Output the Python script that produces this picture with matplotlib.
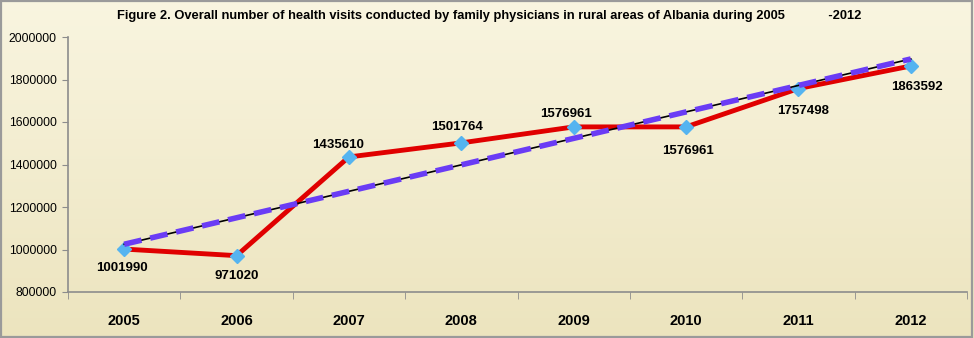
import numpy as np
import matplotlib
matplotlib.use("Agg")
import matplotlib.pyplot as plt
from matplotlib.patches import Rectangle

# Data
years = ["2005", "2006", "2007", "2008", "2009", "2010", "2011", "2012"]
visits = [1001990, 971020, 1435610, 1501764, 1576961, 1576961, 1757498, 1863592]
y_ticks = [800000, 1000000, 1200000, 1400000, 1600000, 1800000, 2000000]
title = ("Figure 2. Overall number of health visits conducted by family physicians "
         "in rural areas of Albania during 2005            -2012")

# Label placement per point, in pixels relative to the marker (label centred)
label_offsets = [(-2, -19), (0, -20), (-11, 12), (-4, 16),
                 (-8, 13), (2, -24), (5, -22), (6, -21)]

W, H, DPI = 974, 338, 100
fig = plt.figure(figsize=(W / DPI, H / DPI), dpi=DPI)

# Cream gradient background
bg = fig.add_axes([0, 0, 1, 1], zorder=-10)
grad = np.linspace(0, 1, 256)[:, None]
top_c = np.array([249, 245, 224]) / 255
bot_c = np.array([236, 228, 190]) / 255
img = top_c[None, None, :] * (1 - grad[..., None]) + bot_c[None, None, :] * grad[..., None]
img = np.repeat(img, 2, axis=1)
bg.imshow(img, aspect="auto", extent=[0, 1, 0, 1], origin="upper")
bg.add_patch(Rectangle((0.001, 0.002), 0.997, 0.995, transform=bg.transAxes,
                       fill=False, edgecolor="#9a9a9a", linewidth=1.6))
bg.set_axis_off()

narrow = ["Liberation Sans Narrow", "Liberation Sans", "DejaVu Sans"]

left, right = 68 / W, 967 / W
bottom, top = (H - 292) / H, (H - 37) / H
ax = fig.add_axes([left, bottom, right - left, top - bottom])
ax.patch.set_alpha(0)

x = np.arange(len(years))

# Linear trend of the series
coef = np.polyfit(x, visits, 1)
trend = np.polyval(coef, x)

ax.plot(x, visits, color="#e00000", linewidth=3.5, zorder=3, solid_capstyle="round")
ax.plot(x, visits, linestyle="none", marker="D", markersize=7,
        markerfacecolor="#55b4f0", markeredgecolor="#55b4f0", zorder=4)
ax.plot(x, trend, color="black", linewidth=1.2, zorder=5)
ax.plot(x, trend, color="#6a3cf5", linewidth=4, dashes=(3.2, 1.6), zorder=6)

for xi, v, (dx, dy) in zip(x, visits, label_offsets):
    ax.annotate(f"{v}", (xi, v), xytext=(dx, dy), textcoords="offset pixels",
                ha="center", va="center", fontsize=9.5, fontweight="bold",
                family="Liberation Sans", color="black", zorder=7)

ax.set_xlim(-0.5, len(years) - 0.5)
ax.set_ylim(800000, 2000000)
ax.set_yticks(y_ticks)
ax.set_yticklabels([str(t) for t in y_ticks], fontsize=8.7, family="Liberation Sans")
ax.set_xticks(x)
ax.set_xticklabels(years, fontsize=10.5, fontweight="bold", family="Liberation Sans")
ax.set_xticks(np.arange(-0.5, len(years)), minor=True)
ax.tick_params(axis="x", which="major", length=0, pad=16)
ax.tick_params(axis="x", which="minor", length=5, color="#8c8c8c", direction="out")
ax.tick_params(axis="y", length=4, color="#8c8c8c", pad=4)

for s in ["top", "right"]:
    ax.spines[s].set_visible(False)
for s in ["left", "bottom"]:
    ax.spines[s].set_color("#8c8c8c")
    ax.spines[s].set_linewidth(1.2)

fig.text(0.502, 1 - 16 / H, title, ha="center", va="center", fontsize=9.3,
         fontweight="bold", family=narrow)

fig.savefig("out.png", dpi=DPI)
